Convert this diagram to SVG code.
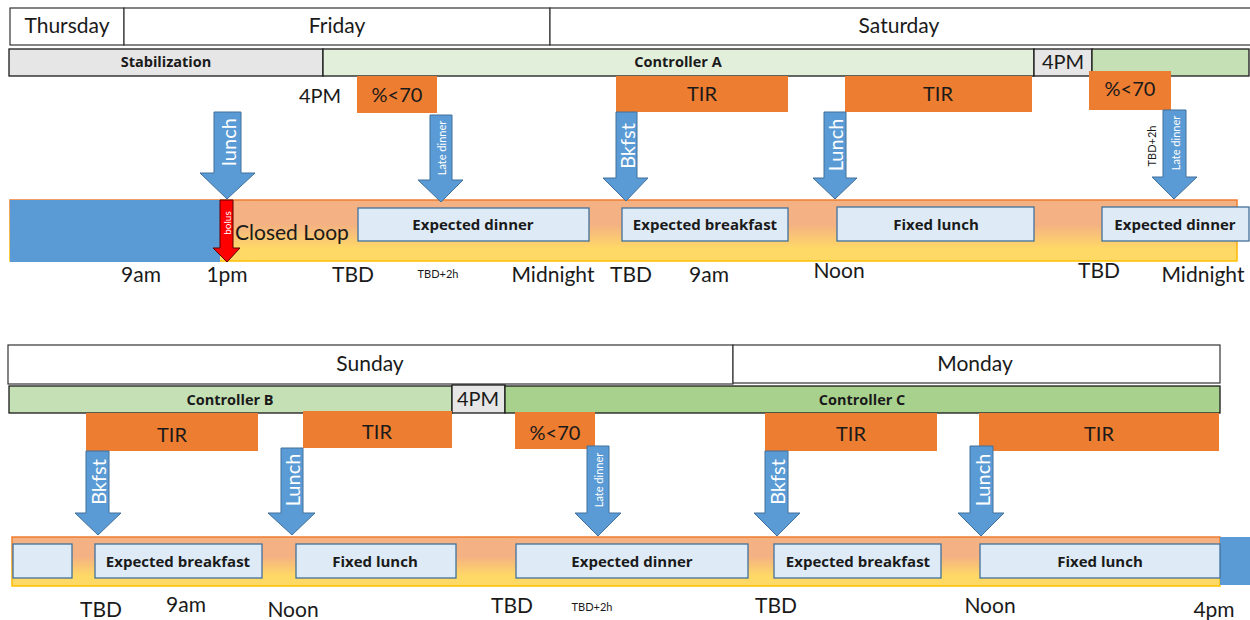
<svg xmlns="http://www.w3.org/2000/svg" width="1250" height="620" viewBox="0 0 1250 620">
  <style>
    text { font-family: Lato, "Open Sans", "Liberation Sans", sans-serif; fill: #1a1a1a; }
    .day { fill: #ffffff; stroke: #333333; stroke-width: 1.2; }
    .dayt { font-size: 21px; text-anchor: middle; }
    .bar { stroke: #1a1a1a; stroke-width: 1.3; }
    .grey { fill: #e6e6e6; }
    .pale { fill: #e2efda; }
    .lgreen { fill: #c5e0b4; }
    .mgreen { fill: #a9d18e; }
    .ctl { font-family: "Open Sans", "Noto Sans", sans-serif; font-size: 14.5px; font-weight: bold; text-anchor: middle; }
    .pm { font-size: 20px; text-anchor: middle; }
    .kpi { fill: #ed7d31; }
    .kpit { font-size: 20px; text-anchor: middle; }
    .arrow { fill: #5b9bd5; stroke: #41719c; stroke-width: 1; }
    .atxt { fill: #ffffff; font-size: 20px; text-anchor: middle; dominant-baseline: central; }
    .asm { fill: #ffffff; font-size: 11px; text-anchor: middle; dominant-baseline: central; }
    .bolust { fill: #ffffff; font-size: 10px; text-anchor: middle; dominant-baseline: central; }
    .line { fill: url(#loopFill); stroke: url(#loopEdge); stroke-width: 1.5; }
    .meal { fill: #deebf7; stroke: #41719c; stroke-width: 1.3; }
    .mealt { font-family: "Open Sans", "Noto Sans", sans-serif; font-size: 15px; font-weight: bold; text-anchor: middle; }
    .time { font-size: 21px; text-anchor: middle; }
    .tsm { font-size: 11px; text-anchor: middle; }
  </style>
  <defs>
    <linearGradient id="loopFill" x1="0" y1="0" x2="0" y2="1">
      <stop offset="0" stop-color="#f4b183"/>
      <stop offset="0.4" stop-color="#f4b183"/>
      <stop offset="0.8" stop-color="#ffd966"/>
      <stop offset="1" stop-color="#ffd966"/>
    </linearGradient>
    <linearGradient id="loopEdge" x1="0" y1="0" x2="0" y2="1">
      <stop offset="0" stop-color="#ed7d31"/>
      <stop offset="1" stop-color="#ffc000"/>
    </linearGradient>
  </defs>

  <!-- ===== Week part 1: Thursday to Saturday ===== -->
  <g id="days-top">
    <rect class="day" x="10" y="8" width="114" height="37"/>
    <text class="dayt" x="67" y="33">Thursday</text>
    <rect class="day" x="124" y="8" width="426" height="37"/>
    <text class="dayt" x="337" y="33">Friday</text>
    <rect class="day" x="550" y="8" width="710" height="37"/>
    <text class="dayt" x="899" y="33">Saturday</text>
  </g>

  <g id="controllers-top">
    <rect class="bar grey" x="9" y="49" width="314" height="27"/>
    <text class="ctl" x="166" y="67">Stabilization</text>
    <rect class="bar pale" x="323" y="49" width="711" height="27"/>
    <text class="ctl" x="678" y="67">Controller A</text>
    <rect class="bar grey" x="1034" y="49" width="58" height="27"/>
    <text class="pm" x="1063" y="69">4PM</text>
    <rect class="bar lgreen" x="1092" y="49" width="157" height="27"/>
  </g>

  <text class="pm" x="320" y="103">4PM</text>

  <g id="kpi-top">
    <rect class="kpi" x="357" y="76" width="80" height="37"/>
    <text class="kpit" x="397" y="102">%&lt;70</text>
    <rect class="kpi" x="616" y="76" width="172" height="36"/>
    <text class="kpit" x="702" y="101">TIR</text>
    <rect class="kpi" x="845" y="76" width="187" height="36"/>
    <text class="kpit" x="938" y="101">TIR</text>
    <rect class="kpi" x="1089" y="71" width="82" height="39"/>
    <text class="kpit" x="1130" y="96">%&lt;70</text>
  </g>

  <g id="timeline-top">
    <rect class="line" x="10" y="200" width="1227" height="61"/>
    <rect x="10" y="200" width="210" height="62" fill="#5b9bd5"/>
    <text x="235" y="240" font-size="21">Closed Loop</text>
    <rect class="meal" x="358" y="208" width="231" height="33"/>
    <text class="mealt" x="473" y="230">Expected dinner</text>
    <rect class="meal" x="622" y="208" width="166" height="33"/>
    <text class="mealt" x="705" y="230">Expected breakfast</text>
    <rect class="meal" x="837" y="207" width="197" height="34"/>
    <text class="mealt" x="936" y="230">Fixed lunch</text>
    <rect class="meal" x="1102" y="207" width="147" height="34"/>
    <text class="mealt" x="1175" y="230">Expected dinner</text>
  </g>

  <g id="meal-arrows-top">
    <path class="arrow" d="M214,112 H241 V173 H255 L227,199 L200,173 H214 Z"/>
    <text class="atxt" transform="translate(228,142) rotate(-90)">lunch</text>
    <path class="arrow" d="M430,115 H452 V180 H463 L441,202 L418,180 H430 Z"/>
    <text class="asm" transform="translate(441,148) rotate(-90)">Late dinner</text>
    <path class="arrow" d="M616,112 H637 V178 H648 L626,201 L603,178 H616 Z"/>
    <text class="atxt" transform="translate(627,146) rotate(-90)">Bkfst</text>
    <path class="arrow" d="M824,112 H846 V178 H857 L835,199 L813,178 H824 Z"/>
    <text class="atxt" transform="translate(835,145) rotate(-90)">Lunch</text>
    <path class="arrow" d="M1163,110 H1186 V177 H1197 L1174,199 L1152,177 H1163 Z"/>
    <text class="asm" transform="translate(1175,143) rotate(-90)">Late dinner</text>
    <text class="tsm" transform="translate(1156,146) rotate(-90)">TBD+2h</text>
  </g>

  <g id="bolus">
    <path d="M220,200 H233 V248 H240 L227,262 L213,248 H220 Z" fill="#ff0000" stroke="#5a0000" stroke-width="1"/>
    <text class="bolust" transform="translate(227,223) rotate(-90)">bolus</text>
  </g>

  <g id="times-top">
    <text class="time" x="141" y="282">9am</text>
    <text class="time" x="227" y="282">1pm</text>
    <text class="time" x="353" y="282">TBD</text>
    <text class="tsm" x="438" y="278">TBD+2h</text>
    <text class="time" x="553" y="282">Midnight</text>
    <text class="time" x="631" y="282">TBD</text>
    <text class="time" x="709" y="282">9am</text>
    <text class="time" x="839" y="278">Noon</text>
    <text class="time" x="1099" y="278">TBD</text>
    <text class="time" x="1203" y="282">Midnight</text>
  </g>

  <!-- ===== Week part 2: Sunday to Monday ===== -->
  <g id="days-bottom">
    <rect class="day" x="8" y="345" width="725" height="39"/>
    <text class="dayt" x="370" y="371">Sunday</text>
    <rect class="day" x="733" y="345" width="487" height="38"/>
    <text class="dayt" x="975" y="371">Monday</text>
  </g>

  <g id="controllers-bottom">
    <rect class="bar lgreen" x="9" y="386" width="443" height="27"/>
    <text class="ctl" x="230" y="405">Controller B</text>
    <rect class="bar grey" x="452" y="385" width="53" height="28"/>
    <text class="pm" x="478" y="406">4PM</text>
    <rect class="bar mgreen" x="505" y="386" width="715" height="27"/>
    <text class="ctl" x="862" y="405">Controller C</text>
  </g>

  <g id="kpi-bottom">
    <rect class="kpi" x="86" y="413" width="172" height="38"/>
    <text class="kpit" x="172" y="442">TIR</text>
    <rect class="kpi" x="303" y="411" width="149" height="37"/>
    <text class="kpit" x="377" y="439">TIR</text>
    <rect class="kpi" x="515" y="412" width="80" height="37"/>
    <text class="kpit" x="555" y="440">%&lt;70</text>
    <rect class="kpi" x="765" y="413" width="172" height="38"/>
    <text class="kpit" x="851" y="441">TIR</text>
    <rect class="kpi" x="979" y="413" width="240" height="38"/>
    <text class="kpit" x="1099" y="441">TIR</text>
  </g>

  <g id="timeline-bottom">
    <rect class="line" x="12" y="537" width="1208" height="49"/>
    <rect x="1220" y="537" width="30" height="48" fill="#5b9bd5"/>
    <rect class="meal" x="13" y="544" width="59" height="34"/>
    <rect class="meal" x="95" y="544" width="167" height="34"/>
    <text class="mealt" x="178" y="567">Expected breakfast</text>
    <rect class="meal" x="296" y="544" width="160" height="34"/>
    <text class="mealt" x="375" y="567">Fixed lunch</text>
    <rect class="meal" x="516" y="544" width="232" height="34"/>
    <text class="mealt" x="632" y="567">Expected dinner</text>
    <rect class="meal" x="774" y="544" width="167" height="34"/>
    <text class="mealt" x="858" y="567">Expected breakfast</text>
    <rect class="meal" x="980" y="544" width="240" height="34"/>
    <text class="mealt" x="1100" y="567">Fixed lunch</text>
  </g>

  <g id="meal-arrows-bottom">
    <path class="arrow" d="M86,451 H109 V513 H121 L98,535 L75,513 H86 Z"/>
    <text class="atxt" transform="translate(98,482) rotate(-90)">Bkfst</text>
    <path class="arrow" d="M281,448 H303 V513 H315 L292,535 L268,513 H281 Z"/>
    <text class="atxt" transform="translate(292,480) rotate(-90)">Lunch</text>
    <path class="arrow" d="M587,446 H609 V513 H621 L598,536 L575,513 H587 Z"/>
    <text class="asm" transform="translate(598,480) rotate(-90)">Late dinner</text>
    <path class="arrow" d="M765,451 H788 V513 H800 L777,536 L754,513 H765 Z"/>
    <text class="atxt" transform="translate(777,482) rotate(-90)">Bkfst</text>
    <path class="arrow" d="M970,446 H993 V513 H1004 L981,536 L958,513 H970 Z"/>
    <text class="atxt" transform="translate(982,480) rotate(-90)">Lunch</text>
  </g>

  <g id="times-bottom">
    <text class="time" x="101" y="617">TBD</text>
    <text class="time" x="186" y="612">9am</text>
    <text class="time" x="293" y="617">Noon</text>
    <text class="time" x="512" y="613">TBD</text>
    <text class="tsm" x="592" y="611">TBD+2h</text>
    <text class="time" x="776" y="613">TBD</text>
    <text class="time" x="990" y="613">Noon</text>
    <text class="time" x="1214" y="617">4pm</text>
  </g>
</svg>
